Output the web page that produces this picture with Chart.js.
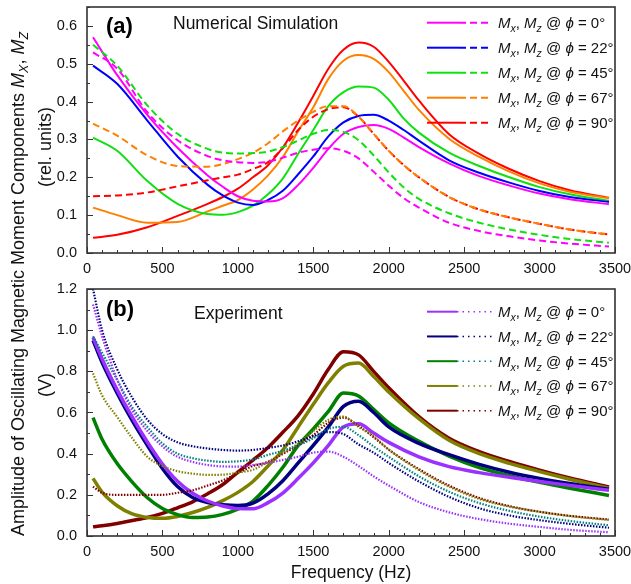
<!DOCTYPE html>
<html>
<head>
<meta charset="utf-8">
<title>Magnetic moment components</title>
<script src="https://cdn.jsdelivr.net/npm/chart.js@4.4.1/dist/chart.umd.min.js"></script>
<style>
    body { margin: 0; background: #fff; }
    #wrap { position: relative; width: 631px; height: 584px; }
    canvas { position: absolute; left: 0; }
</style>
</head>
<body>
<div id="wrap">
    <canvas id="chartA" width="631" height="280" style="top:0"></canvas>
    <canvas id="chartB" width="631" height="304" style="top:280px"></canvas>
</div>

<script>
    // (a) numerical simulation
    const freqA = [40, 200, 400, 600, 800, 900, 1000, 1100, 1200, 1300, 1400, 1500, 1600, 1700, 1800, 1900, 2000, 2100, 2200, 2400, 2600, 2800, 3000, 3200, 3460];
    const mx0A  = [0.57, 0.47, 0.365, 0.278, 0.205, 0.175, 0.15, 0.138, 0.136, 0.145, 0.18, 0.225, 0.275, 0.315, 0.333, 0.338, 0.328, 0.305, 0.28, 0.237, 0.203, 0.178, 0.157, 0.142, 0.129];
    const mx22A = [0.495, 0.447, 0.35, 0.255, 0.18, 0.152, 0.133, 0.127, 0.14, 0.165, 0.208, 0.255, 0.308, 0.345, 0.362, 0.365, 0.35, 0.325, 0.297, 0.245, 0.212, 0.186, 0.164, 0.148, 0.135];
    const mx45A = [0.305, 0.27, 0.19, 0.13, 0.103, 0.101, 0.108, 0.125, 0.155, 0.198, 0.262, 0.325, 0.388, 0.425, 0.44, 0.437, 0.405, 0.355, 0.318, 0.265, 0.23, 0.2, 0.174, 0.155, 0.138];
    const mx67A = [0.12, 0.10, 0.08, 0.082, 0.11, 0.125, 0.14, 0.168, 0.205, 0.255, 0.322, 0.385, 0.46, 0.508, 0.523, 0.513, 0.478, 0.428, 0.378, 0.302, 0.254, 0.215, 0.184, 0.162, 0.145];
    const mx90A = [0.04, 0.048, 0.068, 0.098, 0.13, 0.148, 0.17, 0.2, 0.232, 0.28, 0.345, 0.415, 0.487, 0.537, 0.556, 0.545, 0.505, 0.455, 0.403, 0.314, 0.262, 0.222, 0.19, 0.166, 0.146];
    const mz0A  = [0.53, 0.487, 0.372, 0.298, 0.256, 0.245, 0.24, 0.238, 0.241, 0.252, 0.265, 0.273, 0.277, 0.27, 0.25, 0.215, 0.178, 0.145, 0.12, 0.08, 0.058, 0.044, 0.033, 0.025, 0.017];
    const mz22A = [];   // no separate dashed trace for phi = 22 visible in (a)
    const mz45A = [0.55, 0.495, 0.39, 0.315, 0.275, 0.265, 0.263, 0.264, 0.268, 0.28, 0.297, 0.315, 0.325, 0.32, 0.298, 0.258, 0.213, 0.173, 0.143, 0.105, 0.08, 0.062, 0.048, 0.037, 0.027];
    const mz67A = [0.342, 0.31, 0.258, 0.23, 0.228, 0.235, 0.248, 0.265, 0.29, 0.322, 0.35, 0.373, 0.388, 0.388, 0.36, 0.315, 0.27, 0.232, 0.2, 0.148, 0.115, 0.094, 0.077, 0.062, 0.049];
    const mz90A = [0.15, 0.152, 0.16, 0.176, 0.192, 0.2, 0.207, 0.222, 0.24, 0.278, 0.325, 0.36, 0.38, 0.385, 0.36, 0.315, 0.27, 0.232, 0.2, 0.148, 0.115, 0.094, 0.077, 0.062, 0.049];

    // (b) experiment
    const freqB = [40, 100, 200, 300, 400, 500, 600, 700, 800, 900, 1000, 1100, 1200, 1300, 1400, 1500, 1600, 1700, 1800, 1900, 2000, 2200, 2400, 2600, 2800, 3000, 3200, 3460];
    const mx0B  = [0.965, 0.86, 0.71, 0.577, 0.457, 0.35, 0.266, 0.208, 0.17, 0.146, 0.133, 0.132, 0.162, 0.21, 0.28, 0.355, 0.44, 0.53, 0.545, 0.50, 0.455, 0.385, 0.337, 0.308, 0.285, 0.265, 0.246, 0.222];
    const mx22B = [0.95, 0.843, 0.694, 0.56, 0.44, 0.328, 0.24, 0.187, 0.162, 0.152, 0.148, 0.16, 0.205, 0.27, 0.355, 0.44, 0.53, 0.63, 0.655, 0.60, 0.53, 0.45, 0.395, 0.348, 0.31, 0.28, 0.255, 0.227];
    const mx45B = [0.575, 0.47, 0.352, 0.262, 0.186, 0.134, 0.104, 0.09, 0.092, 0.105, 0.13, 0.17, 0.245, 0.335, 0.44, 0.52, 0.605, 0.695, 0.68, 0.615, 0.55, 0.46, 0.388, 0.332, 0.293, 0.261, 0.232, 0.197];
    const mx67B = [0.28, 0.213, 0.147, 0.107, 0.09, 0.086, 0.095, 0.114, 0.139, 0.172, 0.212, 0.265, 0.34, 0.42, 0.53, 0.64, 0.745, 0.825, 0.84, 0.775, 0.70, 0.57, 0.465, 0.4, 0.353, 0.313, 0.276, 0.232];
    const mx90B = [0.045, 0.05, 0.061, 0.075, 0.09, 0.11, 0.137, 0.166, 0.205, 0.25, 0.31, 0.368, 0.43, 0.505, 0.585, 0.69, 0.81, 0.895, 0.88, 0.80, 0.72, 0.58, 0.475, 0.41, 0.362, 0.32, 0.282, 0.238];
    const mz0B  = [1.125, 0.97, 0.76, 0.61, 0.51, 0.435, 0.385, 0.36, 0.345, 0.338, 0.337, 0.345, 0.355, 0.37, 0.385, 0.405, 0.41, 0.385, 0.34, 0.29, 0.245, 0.165, 0.115, 0.082, 0.06, 0.044, 0.03, 0.018];
    const mz22B = [1.2, 1.0, 0.81, 0.672, 0.565, 0.495, 0.455, 0.436, 0.425, 0.418, 0.415, 0.418, 0.428, 0.44, 0.46, 0.485, 0.505, 0.495, 0.445, 0.405, 0.355, 0.265, 0.19, 0.135, 0.1, 0.077, 0.059, 0.04];
    const mz45B = [0.97, 0.89, 0.758, 0.625, 0.53, 0.45, 0.4, 0.378, 0.366, 0.36, 0.363, 0.372, 0.394, 0.415, 0.44, 0.475, 0.52, 0.53, 0.49, 0.435, 0.385, 0.29, 0.215, 0.16, 0.122, 0.094, 0.073, 0.052];
    const mz67B = [0.79, 0.683, 0.578, 0.475, 0.385, 0.34, 0.315, 0.303, 0.297, 0.298, 0.308, 0.322, 0.36, 0.405, 0.45, 0.51, 0.565, 0.58, 0.53, 0.485, 0.42, 0.32, 0.24, 0.18, 0.143, 0.117, 0.097, 0.078];
    const mz90B = [0.24, 0.21, 0.2, 0.2, 0.2, 0.2, 0.21, 0.222, 0.245, 0.27, 0.305, 0.34, 0.36, 0.4, 0.44, 0.49, 0.55, 0.575, 0.535, 0.48, 0.42, 0.325, 0.245, 0.185, 0.145, 0.118, 0.098, 0.08];

    const phiLabels = ['0', '22', '45', '67', '90'];
    const xTicks = [0, 500, 1000, 1500, 2000, 2500, 3000, 3500];
    const yTicksA = [0, 0.1, 0.2, 0.3, 0.4, 0.5, 0.6];
    const yTicksB = [0, 0.2, 0.4, 0.6, 0.8, 1.0, 1.2];

    const FONT = '"Liberation Sans", Arial, sans-serif';
    const colA = ['#ff00ff', '#0000ff', '#10e010', '#ff8000', '#ff0000'];
    const colB = ['#9b30ff', '#000080', '#008000', '#808000', '#800000'];
    const colBdot = ['#9b30ff', '#000080', '#008080', '#808000', '#800000'];

    function series(freqs, vals, color, dash, width) {
        return {
            data: freqs.map(function (f, i) { return {x: f, y: vals[i]}; }),
            borderColor: color,
            borderDash: dash,
            borderWidth: width,
            pointRadius: 0,
            fill: false,
            cubicInterpolationMode: 'monotone'
        };
    }

    // text made of runs: [text, font, dy]
    function richText(ctx, x, y, runs, center) {
        let w = 0;
        runs.forEach(function (r) { ctx.font = r[1]; w += ctx.measureText(r[0]).width; });
        let cx = center ? x - w / 2 : x;
        runs.forEach(function (r) {
            ctx.font = r[1];
            ctx.fillText(r[0], cx, y + (r[2] || 0));
            cx += ctx.measureText(r[0]).width;
        });
    }

    function legendRuns(phi) {
        return [
            ['M', 'italic 15px ' + FONT, 0],
            ['x', 'italic 10.5px ' + FONT, 4],
            [', ', '15px ' + FONT, 0],
            ['M', 'italic 15px ' + FONT, 0],
            ['z', 'italic 10.5px ' + FONT, 4],
            [' @ ', '15px ' + FONT, 0],
            ['\u03d5', 'italic 15px ' + FONT, 0],
            [' = ' + phi + '\u00b0', '15px ' + FONT, 0]
        ];
    }

    // shared y title, drawn in both canvases, each shows its own part
    function yTitle(ctx, top) {
        const T = '18px ' + FONT;
        ctx.save();
        ctx.fillStyle = '#111';
        ctx.textBaseline = 'alphabetic';
        ctx.translate(24, 284 - top);
        ctx.rotate(-Math.PI / 2);
        richText(ctx, 0, 0, [
            ['Amplitude of Oscillating Magnetic Moment Components ', T, 0],
            ['M', 'italic ' + T, 0],
            ['X', 'italic 12.5px ' + FONT, 4],
            [', ', T, 0],
            ['M', 'italic ' + T, 0],
            ['Z', 'italic 12.5px ' + FONT, 4]
        ], true);
        ctx.restore();
    }

    function subTitle(ctx, text, x, y) {
        ctx.save();
        ctx.fillStyle = '#111';
        ctx.translate(x, y);
        ctx.rotate(-Math.PI / 2);
        ctx.textAlign = 'center';
        ctx.font = '18px ' + FONT;
        ctx.fillText(text, 0, 0);
        ctx.restore();
    }

    function frameAndTicks(chart, majorY, minorY) {
        const ctx = chart.ctx, a = chart.chartArea;
        const xs = chart.scales.x, ys = chart.scales.y;
        ctx.save();
        ctx.strokeStyle = '#333';
        ctx.lineWidth = 1;
        ctx.beginPath();
        for (let k = 0; k <= 35; k++) {
            const px = Math.round(xs.getPixelForValue(k * 100)) + 0.5;
            const len = k % 5 === 0 ? 6 : 3;
            ctx.moveTo(px, a.bottom);
            ctx.lineTo(px, a.bottom - len);
        }
        const ratio = Math.round(majorY / minorY);
        for (let k = 0; minorY * k <= ys.max + 1e-9; k++) {
            const py = Math.round(ys.getPixelForValue(minorY * k)) + 0.5;
            const len = k % ratio === 0 ? 6 : 3;
            ctx.moveTo(a.left, py);
            ctx.lineTo(a.left + len, py);
        }
        ctx.stroke();
        ctx.lineWidth = 1.6;
        ctx.strokeRect(a.left, a.top, a.right - a.left, a.bottom - a.top);
        ctx.restore();
    }

    function baseOptions(yMax, yTicks, xHeight, top) {
        return {
            responsive: false,
            animation: false,
            devicePixelRatio: 1,
            layout: {padding: {left: 0, right: 16, top: top, bottom: 0}},
            plugins: {legend: {display: false}, tooltip: {enabled: false}},
            scales: {
                x: {
                    type: 'linear', min: 0, max: 3500,
                    grid: {display: false, drawTicks: false}, border: {display: false},
                    afterBuildTicks: function (s) { s.ticks = xTicks.map(function (v) { return {value: v}; }); },
                    afterFit: function (s) {
                        s.height = xHeight;
                        s.paddingLeft = 0; s.paddingRight = 0;
                    },
                    ticks: {
                        font: {family: FONT, size: 14.5}, color: '#111', padding: 7, maxRotation: 0,
                        callback: function (v) { return String(v); }
                    }
                },
                y: {
                    min: 0, max: yMax,
                    grid: {display: false, drawTicks: false}, border: {display: false},
                    afterBuildTicks: function (s) { s.ticks = yTicks.map(function (v) { return {value: v}; }); },
                    afterFit: function (s) {
                        s.width = 87;
                        s.paddingTop = 0; s.paddingBottom = 0;
                    },
                    ticks: {
                        font: {family: FONT, size: 14.5}, color: '#111', padding: 10,
                        callback: function (v) { return v.toFixed(1); }
                    }
                }
            }
        };
    }

    // ---------- chart (a) ----------
    const solidA = [mx0A, mx22A, mx45A, mx67A, mx90A];
    const dashA = [mz0A, mz22A, mz45A, mz67A, mz90A];
    const dsA = [];
    for (let i = 0; i < 5; i++) {
        if (dashA[i].length) dsA.push(series(freqA, dashA[i], colA[i], [7, 4], 2));
    }
    for (let i = 0; i < 5; i++) dsA.push(series(freqA, solidA[i], colA[i], [], 2));

    new Chart(document.getElementById('chartA'), {
        type: 'line',
        data: {datasets: dsA},
        options: baseOptions(0.65, yTicksA, 27, 7),
        plugins: [{
            id: 'decoA',
            afterDraw: function (chart) {
                const ctx = chart.ctx;
                frameAndTicks(chart, 0.1, 0.05);
                yTitle(ctx, 0);
                subTitle(ctx, '(rel. units)', 51, 147);
                ctx.save();
                ctx.fillStyle = '#000';
                ctx.font = 'bold 22px ' + FONT;
                ctx.fillText('(a)', 106, 32.5);
                ctx.font = '17.5px ' + FONT;
                ctx.fillStyle = '#111';
                ctx.fillText('Numerical Simulation', 173, 28.7);
                for (let i = 0; i < 5; i++) {
                    const y = 22.7 + 25 * i;
                    ctx.strokeStyle = colA[i];
                    ctx.lineWidth = 2;
                    ctx.setLineDash([]);
                    ctx.beginPath(); ctx.moveTo(427, y); ctx.lineTo(459, y); ctx.stroke();
                    ctx.setLineDash([7, 4]);
                    ctx.beginPath(); ctx.moveTo(459, y); ctx.lineTo(491, y); ctx.stroke();
                    ctx.setLineDash([]);
                    ctx.fillStyle = '#111';
                    richText(ctx, 498, y + 5.6, legendRuns(phiLabels[i]), false);
                }
                ctx.restore();
            }
        }]
    });

    // ---------- chart (b) ----------
    const solidB = [mx0B, mx22B, mx45B, mx67B, mx90B];
    const dotB = [mz0B, mz22B, mz45B, mz67B, mz90B];
    const dsB = [];
    for (let i = 0; i < 5; i++) dsB.push(series(freqB, dotB[i], colBdot[i], [1.5, 1.5], 2.2));
    for (let i = 0; i < 5; i++) dsB.push(series(freqB, solidB[i], colB[i], [], 3.5));

    new Chart(document.getElementById('chartB'), {
        type: 'line',
        data: {datasets: dsB},
        options: baseOptions(1.2, yTicksB, 48, 9),
        plugins: [{
            id: 'decoB',
            afterDraw: function (chart) {
                const ctx = chart.ctx;
                frameAndTicks(chart, 0.2, 0.1);
                yTitle(ctx, 280);
                subTitle(ctx, '(V)', 51, 105);
                ctx.save();
                ctx.fillStyle = '#000';
                ctx.font = 'bold 22px ' + FONT;
                ctx.fillText('(b)', 106, 35.5);
                ctx.font = '17.5px ' + FONT;
                ctx.fillStyle = '#111';
                ctx.fillText('Experiment', 194, 39);
                ctx.textAlign = 'center';
                ctx.fillText('Frequency (Hz)', 351, 297.5);
                ctx.textAlign = 'left';
                for (let i = 0; i < 5; i++) {
                    const y = 31.7 + 24.75 * i;
                    ctx.strokeStyle = colB[i];
                    ctx.lineWidth = 2;
                    ctx.setLineDash([]);
                    ctx.beginPath(); ctx.moveTo(427, y); ctx.lineTo(457, y); ctx.stroke();
                    ctx.strokeStyle = colBdot[i];
                    ctx.lineWidth = 1.5;
                    ctx.setLineDash([1.5, 4]);
                    ctx.beginPath(); ctx.moveTo(457, y); ctx.lineTo(493, y); ctx.stroke();
                    ctx.setLineDash([]);
                    ctx.fillStyle = '#111';
                    richText(ctx, 498, y + 5.3, legendRuns(phiLabels[i]), false);
                }
                ctx.restore();
            }
        }]
    });
</script>
</body>
</html>
